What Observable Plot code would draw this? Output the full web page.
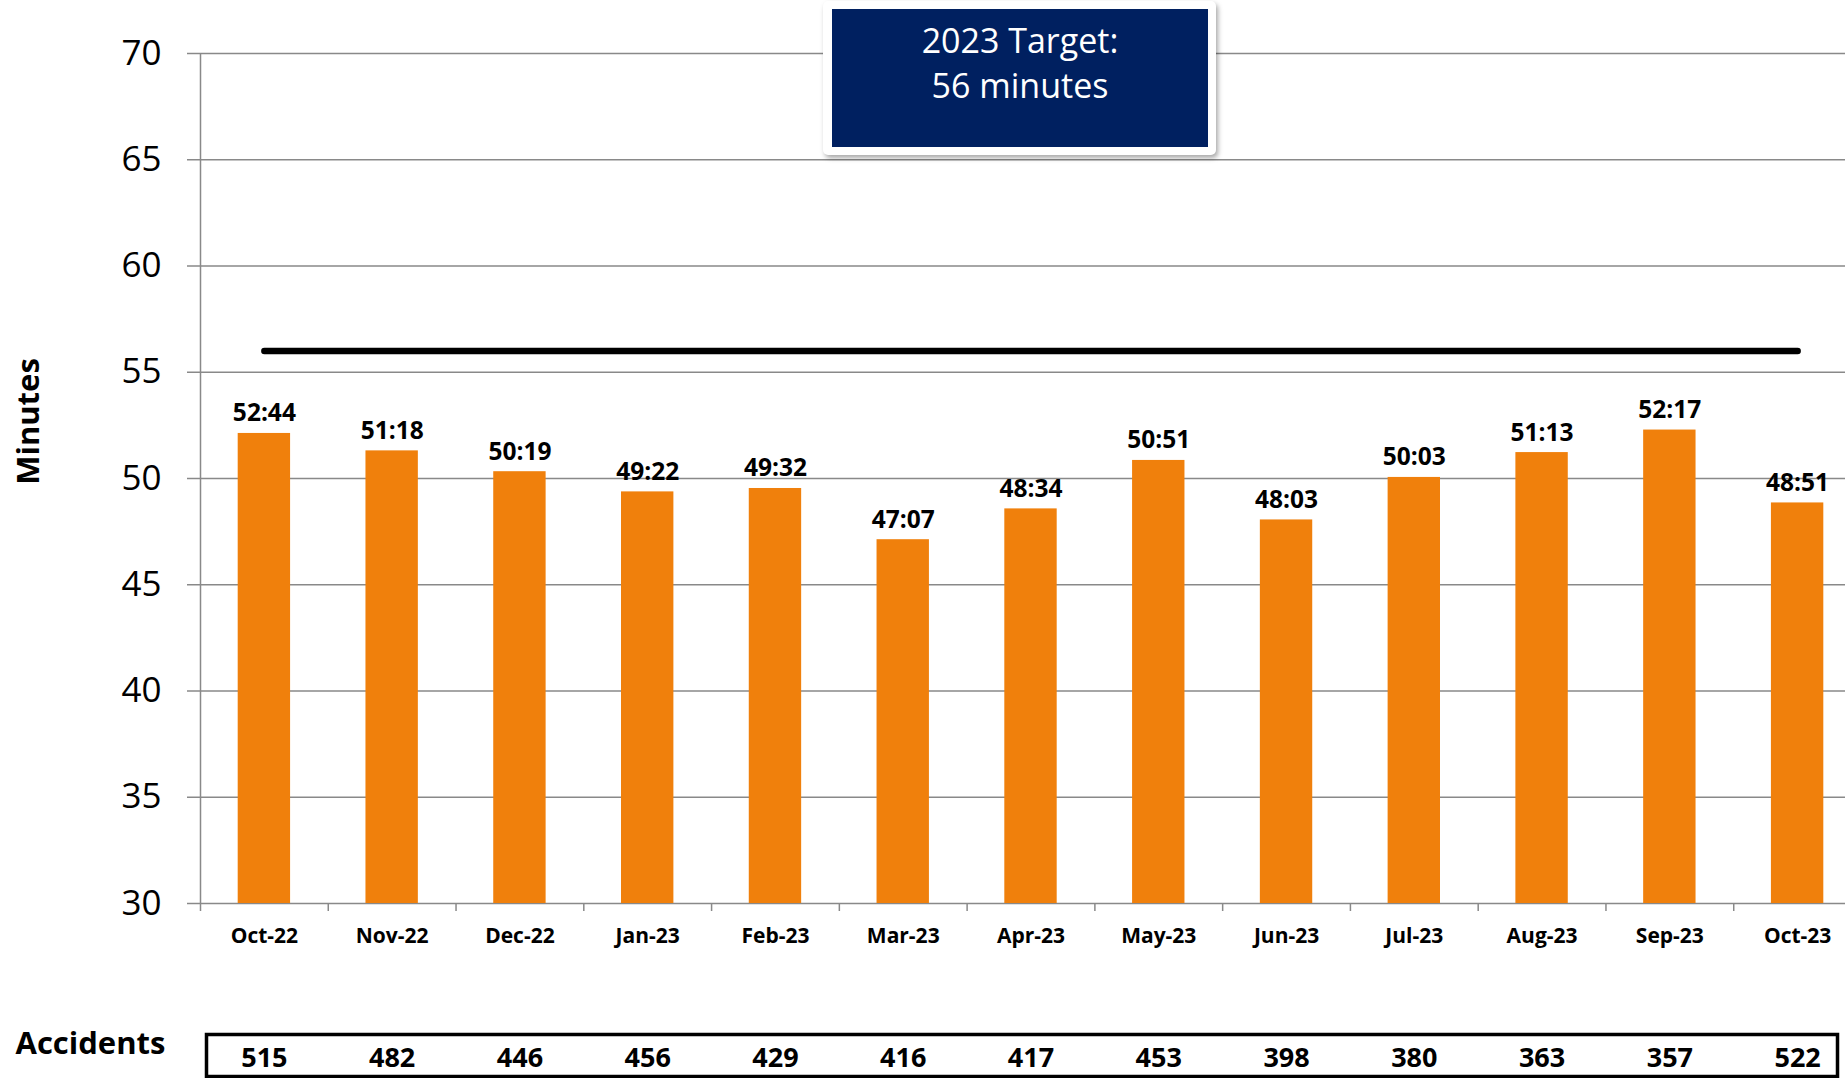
<!DOCTYPE html>
<html>
<head>
<meta charset="utf-8">
<script src="https://cdn.jsdelivr.net/npm/d3@7"></script>
<script src="https://cdn.jsdelivr.net/npm/@observablehq/plot@0.6"></script>
<style>
  html, body { margin: 0; padding: 0; background: white; overflow: hidden; }
  #wrap { position: relative; width: 1845px; height: 1078px; overflow: hidden; font-family: "Open Sans", sans-serif; }
  #wrap svg { display: block; }
  #target { position: absolute; left: 823px; top: 1px; width: 393px; height: 154px; background: white;
            border-radius: 5px; box-shadow: 2px 3px 5px rgba(0,0,0,0.35); }
  #target .inner { position: absolute; left: 9px; top: 8px; width: 376px; height: 138px; background: #002060;
            color: white; font-size: 34px; line-height: 45px; text-align: center; padding-top: 9px; box-sizing: border-box; }
</style>
</head>
<body>
<div id="wrap"></div>
<script>
// ---- data ----
const months = ["Oct-22","Nov-22","Dec-22","Jan-23","Feb-23","Mar-23","Apr-23","May-23","Jun-23","Jul-23","Aug-23","Sep-23","Oct-23"];
const minutes = [52.12, 51.30, 50.32, 49.37, 49.53, 47.12, 48.57, 50.85, 48.05, 50.05, 51.22, 52.28, 48.85];
const timeLabels = ["52:44","51:18","50:19","49:22","49:32","47:07","48:34","50:51","48:03","50:03","51:13","52:17","48:51"];
const accidents = [515, 482, 446, 456, 429, 416, 417, 453, 398, 380, 363, 357, 522];
const target = 56;
const targetYear = 2023;
const yDomain = [30, 70];
const yTicks = [30, 35, 40, 45, 50, 55, 60, 65, 70];

const data = months.map((m, i) => ({month: m, minutes: minutes[i], label: timeLabels[i], accidents: accidents[i], target}));

const gray = "#898989";
const orange = "#f0800c";
const font = "Open Sans";
const xRange = [200, 1861];
const step = (xRange[1] - xRange[0]) / months.length;
const xScale = {domain: months, range: xRange, paddingInner: 0.59, paddingOuter: 0.295, align: 0.5, round: false};

const main = Plot.plot({
  width: 1845, height: 990,
  marginTop: 53, marginBottom: 87, marginLeft: 200, marginRight: 0,
  style: {fontFamily: font, background: "white", color: "black"},
  x: {...xScale},
  y: {domain: yDomain},
  marks: [
    Plot.gridY(yTicks, {stroke: gray, strokeOpacity: 1, strokeWidth: 1.5}),
    Plot.ruleX(months.slice(0, 1), {x: d => d, dx: -step / 2, stroke: gray, strokeWidth: 1.5}),
    Plot.axisY(yTicks, {tickSize: 13, tickPadding: 26, fontSize: 35, stroke: gray, strokeWidth: 1.5, label: null, fill: "black"}),
    Plot.axisX({tickSize: 8, tickFormat: () => "", dx: -step / 2, stroke: gray, strokeWidth: 1.5, label: null}),
    Plot.axisX({tickSize: 0, tickPadding: 25, fontSize: 21, fontWeight: "bold", label: null, fill: "black"}),
    Plot.barY(data, {x: "month", y1: yDomain[0], y2: "minutes", fill: orange}),
    Plot.lineY(data, {x: "month", y: "target", stroke: "black", strokeWidth: 6.5, strokeLinecap: "round"}),
    Plot.text(data, {x: "month", y: "minutes", text: "label", dy: -12, lineAnchor: "bottom", fontSize: 24.5, fontWeight: "bold", fill: "black"}),
    Plot.text(["Minutes"], {frameAnchor: "left", dx: -171, dy: -57, rotate: -90, fontSize: 31, fontWeight: "bold", fill: "black", textAnchor: "middle", lineAnchor: "middle"})
  ]
});

const table = Plot.plot({
  width: 1845, height: 88,
  marginTop: 44, marginBottom: 2, marginLeft: 206, marginRight: 8,
  style: {fontFamily: font, background: "white", color: "black"},
  x: {...xScale, axis: null},
  marks: [
    Plot.frame({stroke: "black", strokeWidth: 3.5}),
    Plot.text(data, {x: "month", text: d => String(d.accidents), fontSize: 27, fontWeight: "bold", fill: "black", dy: 3}),
    Plot.text(["Accidents"], {frameAnchor: "left", textAnchor: "start", dx: -191, dy: -11, fontSize: 31, fontWeight: "bold", fill: "black"})
  ]
});

const wrap = document.getElementById("wrap");
wrap.appendChild(main);
wrap.appendChild(table);

const box = document.createElement("div");
box.id = "target";
const inner = document.createElement("div");
inner.className = "inner";
inner.innerHTML = `${targetYear} Target:<br>${target} minutes`;
box.appendChild(inner);
wrap.appendChild(box);
</script>
</body>
</html>
